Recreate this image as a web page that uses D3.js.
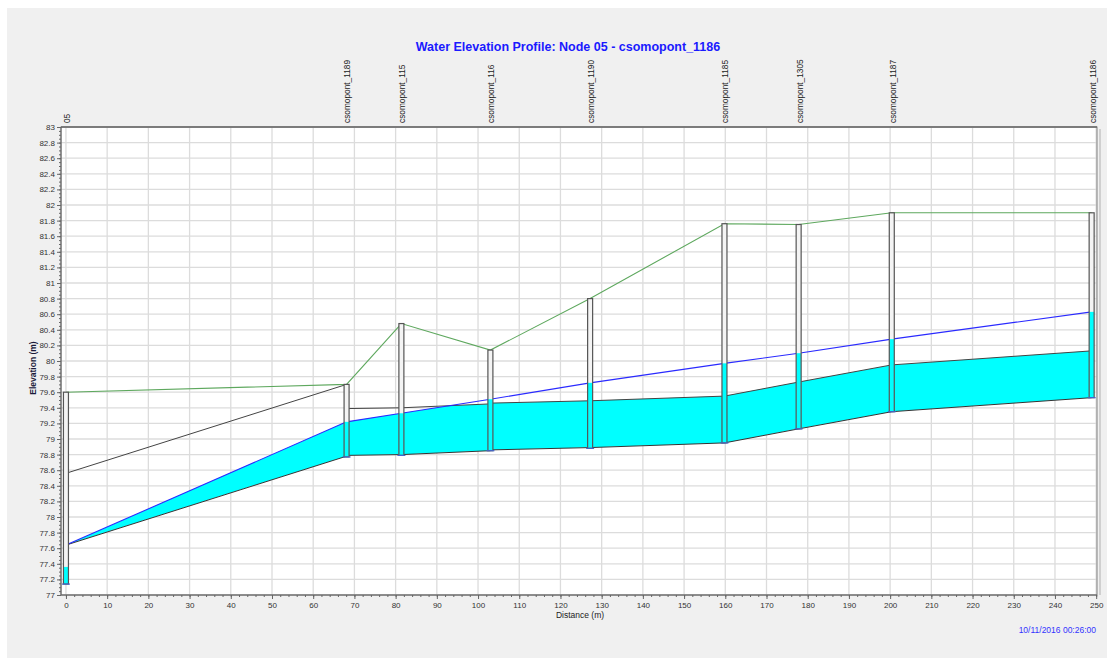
<!DOCTYPE html>
<html lang="en">
<head>
<meta charset="UTF-8">
<title>Water Elevation Profile</title>
<script src="https://d3js.org/d3.v7.min.js"></script>
<style>
  body { margin: 0; background: #fff; }
  text { font-family: "Liberation Sans", Arial, sans-serif; }
</style>
</head>
<body>
<div id="chart"></div>
<script>
// node data (distance along profile, ground / rim, invert, water level)
const nodeNames = ["05", "csomopont_1189", "csomopont_115", "csomopont_116", "csomopont_1190",
                   "csomopont_1185", "csomopont_1305", "csomopont_1187", "csomopont_1186"];
const nodeDist = [0, 68.1, 81.4, 103.0, 127.2, 159.8, 177.8, 200.4, 248.9];
const groundElev = [79.6, 79.7, 80.48, 80.14, 80.8, 81.76, 81.75, 81.9, 81.9];
const nodeInvert = [77.14, 78.77, 78.79, 78.85, 78.88, 78.95, 79.13, 79.35, 79.53];
const waterLevel = [77.36, 79.22, 79.33, 79.51, 79.72, 79.97, 80.10, 80.28, 80.63];

// links between consecutive nodes
const pipeInvertUp = [77.64, 78.79, 78.80, 78.86, 78.89, 78.95, 79.13, 79.35];
const pipeInvertDn = [78.78, 78.80, 78.85, 78.89, 78.95, 79.13, 79.35, 79.53];
const pipeHeight = [0.92, 0.6, 0.6, 0.6, 0.6, 0.6, 0.6, 0.6];

const titleText = "Water Elevation Profile: Node 05 - csomopont_1186";
const timeText = "10/11/2016 00:26:00";

const W = 1107, H = 658;
const plot = { left: 61, right: 1097, top: 127, bottom: 595 };

const svg = d3.select("#chart").append("svg")
    .attr("width", W).attr("height", H);

// grey panel
svg.append("rect").attr("x", 7).attr("y", 8)
    .attr("width", W - 7).attr("height", H - 8).attr("fill", "#f0f0f0");

const x = d3.scaleLinear().domain([-1.2, 250.2]).range([plot.left, plot.right]);
const y = d3.scaleLinear().domain([77, 83]).range([plot.bottom, plot.top]);

svg.append("rect")
    .attr("x", plot.left).attr("y", plot.top)
    .attr("width", plot.right - plot.left).attr("height", plot.bottom - plot.top)
    .attr("fill", "#fff");

const xTicks = d3.range(0, 26).map(i => i * 10);
const yTicks = d3.range(0, 31).map(i => +(77 + i * 0.2).toFixed(1));
const xMinor = d3.range(0, 126).map(i => i * 2);
const yMinor = d3.range(0, 121).map(i => +(77 + i * 0.05).toFixed(2));

// grid
const grid = svg.append("g").attr("stroke", "#dcdcdc").attr("stroke-width", 1.3);
grid.selectAll("line.v").data(xTicks).join("line")
    .attr("x1", d => x(d)).attr("x2", d => x(d))
    .attr("y1", plot.top).attr("y2", plot.bottom);
grid.selectAll("line.h").data(yTicks).join("line")
    .attr("x1", plot.left).attr("x2", plot.right)
    .attr("y1", d => y(d)).attr("y2", d => y(d));

// links
const links = d3.range(nodeDist.length - 1).map(i => ({
    i: i,
    x0: nodeDist[i], x1: nodeDist[i + 1],
    inv0: pipeInvertUp[i], inv1: pipeInvertDn[i],
    top0: pipeInvertUp[i] + pipeHeight[i], top1: pipeInvertDn[i] + pipeHeight[i]
}));

// hydraulic grade line
const hgl = nodeDist.map((d, i) => ({ x: d, y: i === 0 ? Math.max(waterLevel[0], pipeInvertUp[0]) : waterLevel[i] }));

const defs = svg.append("defs");
links.forEach(l => {
    defs.append("clipPath").attr("id", "pipe" + l.i)
        .append("polygon")
        .attr("points", [[x(l.x0), y(l.inv0)], [x(l.x1), y(l.inv1)], [x(l.x1), y(l.top1)], [x(l.x0), y(l.top0)]].join(" "));
});

const pipes = svg.append("g");
links.forEach(l => {
    const w0 = hgl[l.i].y, w1 = hgl[l.i + 1].y;
    pipes.append("polygon")
        .attr("clip-path", `url(#pipe${l.i})`)
        .attr("points", [[x(l.x0), y(l.inv0)], [x(l.x1), y(l.inv1)], [x(l.x1), y(w1)], [x(l.x0), y(w0)]].join(" "))
        .attr("fill", "#00ffff");
    pipes.append("line")
        .attr("x1", x(l.x0)).attr("y1", y(l.inv0)).attr("x2", x(l.x1)).attr("y2", y(l.inv1))
        .attr("stroke", "#333").attr("stroke-width", 1);
    pipes.append("line")
        .attr("x1", x(l.x0)).attr("y1", y(l.top0)).attr("x2", x(l.x1)).attr("y2", y(l.top1))
        .attr("stroke", "#444").attr("stroke-width", 1);
});

// ground line
const line = d3.line().x(d => x(d.x)).y(d => y(d.y));
svg.append("path")
    .datum(nodeDist.map((d, i) => ({ x: d, y: groundElev[i] })))
    .attr("d", line).attr("fill", "none")
    .attr("stroke", "#5ea85e").attr("stroke-width", 1.1);

// water line
svg.append("path").datum(hgl)
    .attr("d", line).attr("fill", "none")
    .attr("stroke", "#2a2aff").attr("stroke-width", 1.1);

// node columns
const nodes = svg.append("g").selectAll("g").data(nodeDist).join("g");
nodes.append("rect")
    .attr("x", d => x(d) - 2.5).attr("width", 5)
    .attr("y", (d, i) => y(groundElev[i]))
    .attr("height", (d, i) => y(nodeInvert[i]) - y(groundElev[i]))
    .attr("fill", "#f4f4f4");
nodes.append("rect")
    .attr("x", d => x(d) - 2.5).attr("width", 5)
    .attr("y", (d, i) => y(waterLevel[i]))
    .attr("height", (d, i) => y(nodeInvert[i]) - y(waterLevel[i]))
    .attr("fill", "#00ffff");
nodes.append("rect")
    .attr("x", d => x(d) - 2.5).attr("width", 5)
    .attr("y", (d, i) => y(groundElev[i]))
    .attr("height", (d, i) => y(nodeInvert[i]) - y(groundElev[i]))
    .attr("fill", "none").attr("stroke", "#555").attr("stroke-width", 1.2);
nodes.append("line")
    .attr("x1", d => x(d) - 4).attr("x2", d => x(d) + 4)
    .attr("y1", (d, i) => y(nodeInvert[i])).attr("y2", (d, i) => y(nodeInvert[i]))
    .attr("stroke", "#4466cc").attr("stroke-width", 1.2);

// frame
svg.append("rect")
    .attr("x", plot.left).attr("y", plot.top)
    .attr("width", plot.right - plot.left).attr("height", plot.bottom - plot.top)
    .attr("fill", "none").attr("stroke", "#808080").attr("stroke-width", 1);
svg.append("line")
    .attr("x1", plot.right + 3).attr("x2", plot.right + 3)
    .attr("y1", plot.top + 2).attr("y2", plot.bottom)
    .attr("stroke", "#b0b0b0").attr("stroke-width", 1);
svg.append("line")
    .attr("x1", plot.left).attr("x2", plot.right)
    .attr("y1", plot.top).attr("y2", plot.top)
    .attr("stroke", "#6a6a6a").attr("stroke-width", 1.6);

// axes
const yAxis = svg.append("g").attr("transform", `translate(${plot.left},0)`)
    .call(d3.axisLeft(y).tickValues(yTicks).tickFormat(d => String(d)).tickSize(4).tickPadding(2));
svg.append("g").attr("transform", `translate(${plot.left},0)`)
    .call(d3.axisLeft(y).tickValues(yMinor).tickFormat("").tickSize(2))
    .call(g => g.select(".domain").remove());
const xAxis = svg.append("g").attr("transform", `translate(0,${plot.bottom})`)
    .call(d3.axisBottom(x).tickValues(xTicks).tickFormat(d => String(d)).tickSize(4).tickPadding(3));
svg.append("g").attr("transform", `translate(0,${plot.bottom})`)
    .call(d3.axisBottom(x).tickValues(xMinor).tickFormat("").tickSize(2))
    .call(g => g.select(".domain").remove());

svg.selectAll(".tick text").attr("font-size", 8).attr("fill", "#333")
    .attr("font-family", "'Liberation Sans', Arial, sans-serif");
svg.selectAll(".tick line").attr("stroke", "#666");
svg.selectAll(".domain").attr("stroke", "#666");
xAxis.select(".domain").attr("d", `M${plot.left},0H${plot.right}`);
yAxis.select(".domain").attr("d", `M0,${plot.top}V${plot.bottom}`);

// node labels
svg.append("g").selectAll("text").data(nodeNames).join("text")
    .attr("transform", (d, i) => `translate(${x(nodeDist[i]) + 1},123) rotate(-90)`)
    .attr("dy", "0.35em")
    .attr("font-size", 8.3).attr("fill", "#222")
    .text(d => d);

// titles
svg.append("text").attr("x", 568).attr("y", 51)
    .attr("text-anchor", "middle").attr("font-size", 12.5).attr("font-weight", "bold")
    .attr("fill", "#1a1aff").text(titleText);
svg.append("text").attr("x", 580).attr("y", 618)
    .attr("text-anchor", "middle").attr("font-size", 8.5).attr("fill", "#222")
    .text("Distance (m)");
svg.append("text").attr("transform", "translate(33,368) rotate(-90)")
    .attr("text-anchor", "middle").attr("dy", "0.35em").attr("font-size", 8.5)
    .attr("font-weight", "bold").attr("fill", "#1a1a3a")
    .text("Elevation (m)");
svg.append("text").attr("x", 1096).attr("y", 633)
    .attr("text-anchor", "end").attr("font-size", 8.5).attr("fill", "#3333ff")
    .text(timeText);
</script>
</body>
</html>
